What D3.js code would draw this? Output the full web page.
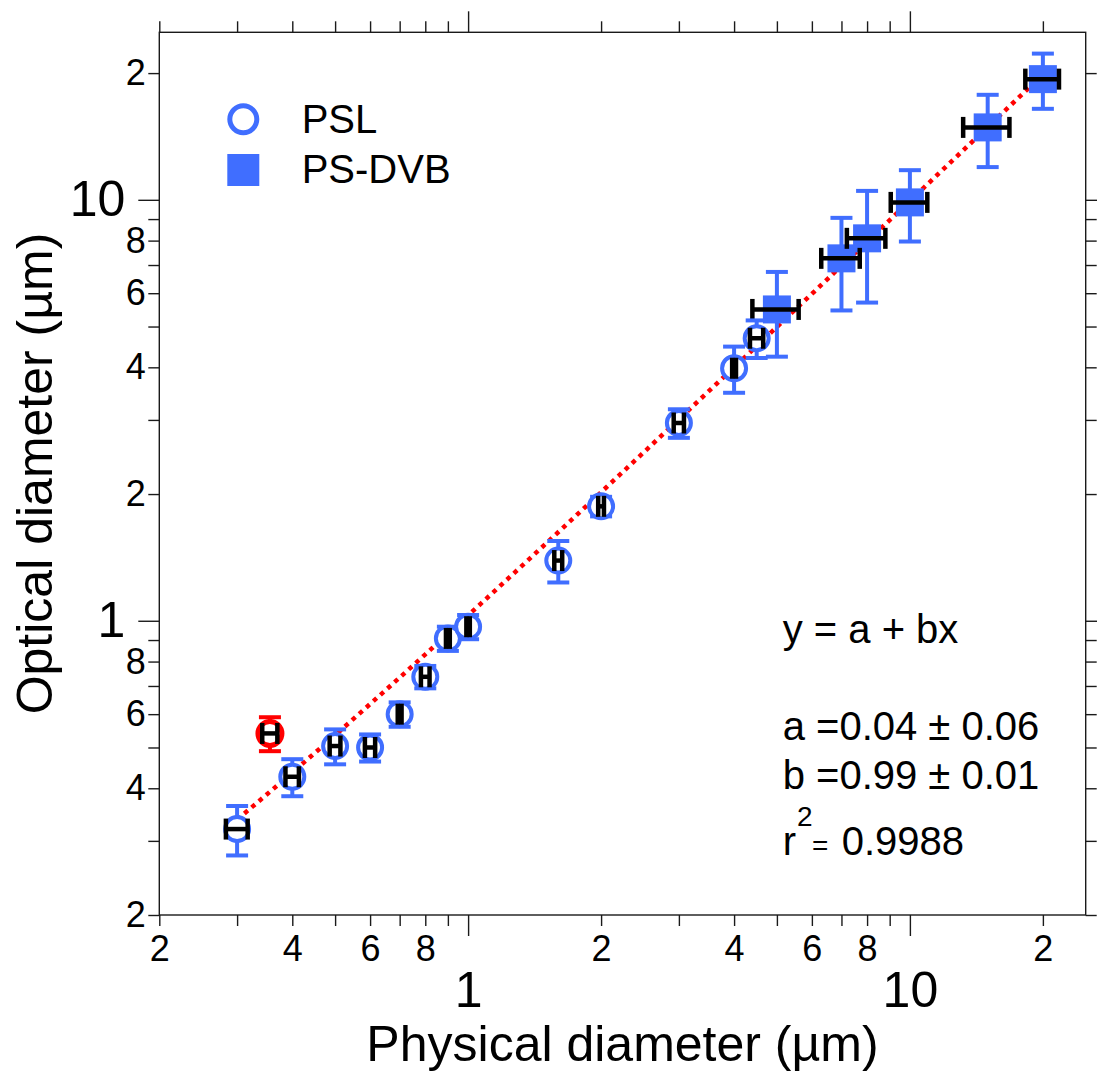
<!DOCTYPE html>
<html><head><meta charset="utf-8">
<script src="https://cdn.jsdelivr.net/npm/d3@7"></script>
<style>
body{margin:0;background:#fff;}
text{font-family:"Liberation Sans",Arial,Helvetica,sans-serif;fill:#000;}
</style></head><body>
<svg id="chart" width="1097" height="1075"></svg>
<script>
// PSL calibration spheres: physical diameter (µm), optical diameter (µm) and their uncertainties
const pslX    = [0.30, 0.40, 0.50, 0.60, 0.70, 0.80, 0.90, 1.00, 1.60, 2.00, 3.00, 4.00, 4.50];
const pslY    = [0.32, 0.426, 0.504, 0.50, 0.60, 0.736, 0.908, 0.968, 1.39, 1.87, 2.95, 3.98, 4.69];
const pslXErr = [0.017, 0.014, 0.014, 0.016, 0.007, 0.018, 0.009, 0.009, 0.033, 0.03, 0.08, 0.04, 0.155];
const pslYErr = [0.043, 0.043, 0.048, 0.037, 0.04, 0.045, 0.06, 0.064, 0.157, 0.10, 0.23, 0.50, 0.48];

// PSL point excluded from the fit
const outX = [0.356], outY = [0.54], outXErr = [0.014], outYErr = [0.05];

// PS-DVB particles
const dvbX    = [5.0, 7.0, 8.0, 10.0, 15.0, 20.0];
const dvbY    = [5.49, 7.26, 8.10, 9.86, 14.86, 19.35];
const dvbXErr = [0.60, 0.70, 0.80, 0.95, 1.80, 1.75];
const dvbYErr = [1.25, 1.80, 2.40, 1.90, 2.90, 2.90];

// Linear fit y = a + b x
const fitA = 0.04, fitB = 0.99, fitRange = [0.30, 20];

// Axis ticks
const axisDomain = [0.2, 25];
const minorTicks = [0.2, 0.3, 0.4, 0.5, 0.6, 0.7, 0.8, 0.9, 2, 3, 4, 5, 6, 7, 8, 9, 20];
const labeledMinor = [0.2, 0.4, 0.6, 0.8, 2, 4, 6, 8, 20];
const majorTicks = [1, 10];

const legendNames = ["PSL", "PS-DVB"];

const BLUE = "#406EFF", RED = "#FF0000", INK = "#1a1a1a";

const svg = d3.select("#chart");
const x = d3.scaleLog().domain(axisDomain).range([159.3, 1085.7]);
const y = d3.scaleLog().domain(axisDomain).range([915, 32.3]);

const leadDigit = d => String(Math.round(d / Math.pow(10, Math.floor(Math.log10(d) + 1e-9))));
const minorFmt = d => labeledMinor.some(v => Math.abs(v - d) < 1e-9) ? leadDigit(d) : "";

function styleAxis(g, fontSize) {
  g.select(".domain").remove();
  g.selectAll(".tick line").attr("stroke", INK).attr("stroke-width", 1.4);
  g.selectAll(".tick text").attr("fill", "#000").attr("font-size", fontSize)
    .attr("font-family", '"Liberation Sans", Arial, sans-serif');
}

// bottom axis
svg.append("g").attr("transform", "translate(0,915)")
  .call(d3.axisBottom(x).tickValues(minorTicks).tickFormat(minorFmt).tickSize(11).tickPadding(9.5).tickSizeOuter(0))
  .call(g => styleAxis(g, 36));
svg.append("g").attr("transform", "translate(0,915)")
  .call(d3.axisBottom(x).tickValues(majorTicks).tickFormat(d3.format("d")).tickSize(21).tickPadding(35).tickSizeOuter(0))
  .call(g => styleAxis(g, 50));
// top axis (ticks only)
svg.append("g").attr("transform", "translate(0,32.3)")
  .call(d3.axisTop(x).tickValues(minorTicks).tickFormat("").tickSize(11).tickSizeOuter(0))
  .call(g => styleAxis(g, 10));
svg.append("g").attr("transform", "translate(0,32.3)")
  .call(d3.axisTop(x).tickValues(majorTicks).tickFormat("").tickSize(21).tickSizeOuter(0))
  .call(g => styleAxis(g, 10));
// left axis
svg.append("g").attr("transform", "translate(159.3,0)")
  .call(d3.axisLeft(y).tickValues(minorTicks).tickFormat(minorFmt).tickSize(11).tickPadding(2.5).tickSizeOuter(0))
  .call(g => styleAxis(g, 36));
svg.append("g").attr("transform", "translate(159.3,0)")
  .call(d3.axisLeft(y).tickValues(majorTicks).tickFormat(d3.format("d")).tickSize(21).tickPadding(13).tickSizeOuter(0))
  .call(g => styleAxis(g, 50));
// right axis (ticks only)
svg.append("g").attr("transform", "translate(1085.7,0)")
  .call(d3.axisRight(y).tickValues(minorTicks).tickFormat("").tickSize(11).tickSizeOuter(0))
  .call(g => styleAxis(g, 10));
svg.append("g").attr("transform", "translate(1085.7,0)")
  .call(d3.axisRight(y).tickValues(majorTicks).tickFormat("").tickSize(21).tickSizeOuter(0))
  .call(g => styleAxis(g, 10));

// plot frame
svg.append("rect").attr("x", 159.3).attr("y", 32.3).attr("width", 1085.7 - 159.3).attr("height", 915 - 32.3)
  .attr("fill", "none").attr("stroke", INK).attr("stroke-width", 1.4);

// axis titles
svg.append("text").attr("x", 622.5).attr("y", 1061).attr("text-anchor", "middle")
  .attr("font-size", 50).text("Physical diameter (µm)");
svg.append("text").attr("transform", "translate(52,473.5) rotate(-90)").attr("text-anchor", "middle")
  .attr("font-size", 50).text("Optical diameter (µm)");

// fit curve
const nFit = 120;
const fitPts = d3.range(nFit + 1).map(i => {
  const lx = Math.log10(fitRange[0]) + (Math.log10(fitRange[1]) - Math.log10(fitRange[0])) * i / nFit;
  const xv = Math.pow(10, lx);
  return [xv, fitA + fitB * xv];
});
svg.append("path").datum(fitPts)
  .attr("d", d3.line().x(d => x(d[0])).y(d => y(d[1])))
  .attr("fill", "none").attr("stroke", RED).attr("stroke-width", 4.5)
  .attr("stroke-dasharray", "4.5,5");

const CAP_W = 22, CAP_H = 21;

function yErrorBars(xs, ys, es, color) {
  const g = svg.append("g").attr("stroke", color).attr("stroke-width", 4).attr("fill", "none");
  xs.forEach((xv, i) => {
    const cx = x(xv), top = y(ys[i] + es[i]), bot = y(ys[i] - es[i]);
    g.append("line").attr("x1", cx).attr("x2", cx).attr("y1", top).attr("y2", bot);
    g.append("line").attr("x1", cx - CAP_W / 2).attr("x2", cx + CAP_W / 2).attr("y1", top).attr("y2", top);
    g.append("line").attr("x1", cx - CAP_W / 2).attr("x2", cx + CAP_W / 2).attr("y1", bot).attr("y2", bot);
  });
}
function xErrorBars(xs, ys, es) {
  const g = svg.append("g").attr("stroke", "#000").attr("stroke-width", 4.5).attr("fill", "none");
  xs.forEach((xv, i) => {
    const cy = y(ys[i]), l = x(xv - es[i]), r = x(xv + es[i]);
    g.append("line").attr("x1", l).attr("x2", r).attr("y1", cy).attr("y2", cy);
    g.append("line").attr("x1", l).attr("x2", l).attr("y1", cy - CAP_H / 2).attr("y2", cy + CAP_H / 2);
    g.append("line").attr("x1", r).attr("x2", r).attr("y1", cy - CAP_H / 2).attr("y2", cy + CAP_H / 2);
  });
}

// PS-DVB squares
yErrorBars(dvbX, dvbY, dvbYErr, BLUE);
svg.append("g").selectAll("rect").data(dvbX).join("rect")
  .attr("x", (d) => x(d) - 14).attr("y", (d, i) => y(dvbY[i]) - 14)
  .attr("width", 28).attr("height", 28).attr("fill", BLUE);
xErrorBars(dvbX, dvbY, dvbXErr);

// PSL circles
yErrorBars(pslX, pslY, pslYErr, BLUE);
svg.append("g").selectAll("circle").data(pslX).join("circle")
  .attr("cx", d => x(d)).attr("cy", (d, i) => y(pslY[i])).attr("r", 12)
  .attr("fill", "#fff").attr("stroke", BLUE).attr("stroke-width", 4);
xErrorBars(pslX, pslY, pslXErr);

// excluded point
yErrorBars(outX, outY, outYErr, RED);
svg.append("g").selectAll("circle").data(outX).join("circle")
  .attr("cx", d => x(d)).attr("cy", (d, i) => y(outY[i])).attr("r", 12)
  .attr("fill", "#fff").attr("stroke", RED).attr("stroke-width", 5);
xErrorBars(outX, outY, outXErr);

// legend
const lg = svg.append("g");
lg.append("circle").attr("cx", 243.3).attr("cy", 119.3).attr("r", 13.5)
  .attr("fill", "#fff").attr("stroke", BLUE).attr("stroke-width", 5);
lg.append("rect").attr("x", 243.3 - 16).attr("y", 170 - 16).attr("width", 32).attr("height", 32).attr("fill", BLUE);
lg.append("text").attr("x", 301.7).attr("y", 133.3).attr("font-size", 40).text(legendNames[0]);
lg.append("text").attr("x", 301.7).attr("y", 182.7).attr("font-size", 40).text(legendNames[1]);

// fit statistics
const fmt2 = d3.format(".2f");
const ann = svg.append("g").attr("font-size", 40);
ann.append("text").attr("x", 782.7).attr("y", 643.3).attr("font-size", 40).text("y = a + bx");
ann.append("text").attr("x", 782.7).attr("y", 740).attr("font-size", 40).text("a =" + fmt2(fitA) + " ± 0.06");
ann.append("text").attr("x", 782.7).attr("y", 789).attr("font-size", 40).text("b =" + fmt2(fitB) + " ± 0.01");
ann.append("text").attr("x", 782.7).attr("y", 855).attr("font-size", 40).text("r");
ann.append("text").attr("x", 797).attr("y", 826).attr("font-size", 28).text("2");
ann.append("text").attr("x", 812).attr("y", 855).attr("font-size", 28).text("=");
ann.append("text").attr("x", 841.7).attr("y", 855).attr("font-size", 40).text("0.9988");
</script>
</body></html>
